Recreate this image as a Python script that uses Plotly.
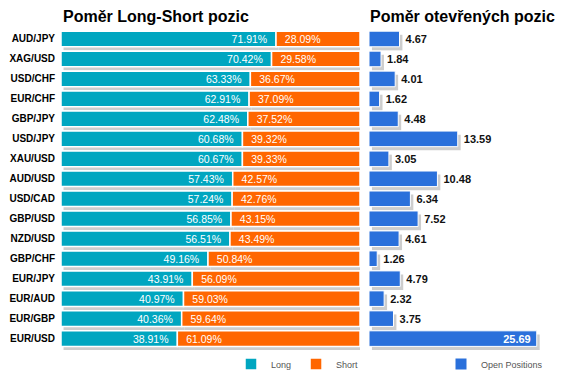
import plotly.graph_objects as go

pairs = ["AUD/JPY", "XAG/USD", "USD/CHF", "EUR/CHF", "GBP/JPY", "USD/JPY", "XAU/USD", "AUD/USD",
         "USD/CAD", "GBP/USD", "NZD/USD", "GBP/CHF", "EUR/JPY", "EUR/AUD", "EUR/GBP", "EUR/USD"]
long_pct = [71.91, 70.42, 63.33, 62.91, 62.48, 60.68, 60.67, 57.43, 57.24, 56.85, 56.51, 49.16,
            43.91, 40.97, 40.36, 38.91]
short_pct = [28.09, 29.58, 36.67, 37.09, 37.52, 39.32, 39.33, 42.57, 42.76, 43.15, 43.49, 50.84,
             56.09, 59.03, 59.64, 61.09]
open_pos = [4.67, 1.84, 4.01, 1.62, 4.48, 13.59, 3.05, 10.48, 6.34, 7.52, 4.61, 1.26, 4.79, 2.32,
            3.75, 25.69]

# the html body has an 8px margin -> figure sits at page (8, 8); convert page px to paper
W, H = 567, 380
OFF = 8


def px(x):
    return (x - OFF) / W


def py(y):
    return 1 - (y - OFF) / H


TEAL = "#00A6C0"
ORANGE = "#FF6600"
BLUE = "#2A70DB"
SHADOW = "#CDCDCD"
FONT = "Liberation Sans, Arial, sans-serif"

BW = 0.78          # bar thickness in category units
SH_Y = 0.18        # shadow vertical shift (category units)
SH_X1 = 0.85       # shadow horizontal shift, left chart (x units)
SH_X2 = 0.45       # shadow horizontal shift, right chart (x units)

fig = go.Figure()

# ---- shadows, left chart
fig.add_trace(go.Bar(y=pairs, x=long_pct, base=[SH_X1] * len(pairs), orientation="h",
                     marker=dict(color=SHADOW, line=dict(width=0)), width=BW,
                     offset=-BW / 2 + SH_Y, showlegend=False, hoverinfo="skip",
                     xaxis="x", yaxis="y"))
fig.add_trace(go.Bar(y=pairs, x=short_pct, base=[l + SH_X1 for l in long_pct], orientation="h",
                     marker=dict(color=SHADOW, line=dict(width=0)), width=BW,
                     offset=-BW / 2 + SH_Y, showlegend=False, hoverinfo="skip",
                     xaxis="x", yaxis="y"))

# ---- main bars, left chart
fig.add_trace(go.Bar(name="Long", y=pairs, x=long_pct, orientation="h",
                     marker=dict(color=TEAL, line=dict(color="white", width=1.5)),
                     width=BW, offset=-BW / 2,
                     texttemplate="%{x:.2f}%\u00a0\u00a0", textposition="inside",
                     insidetextanchor="end", constraintext="none",
                     textfont=dict(color="white", size=10.5, family=FONT),
                     legend="legend", xaxis="x", yaxis="y"))
fig.add_trace(go.Bar(name="Short", y=pairs, x=short_pct, base=long_pct, orientation="h",
                     marker=dict(color=ORANGE, line=dict(color="white", width=1.5)),
                     width=BW, offset=-BW / 2,
                     texttemplate="\u00a0\u00a0%{x:.2f}%", textposition="inside",
                     insidetextanchor="start", constraintext="none",
                     textfont=dict(color="white", size=10.5, family=FONT),
                     legend="legend", xaxis="x", yaxis="y"))

# ---- right chart
vmax = max(open_pos)
positions = ["inside" if v == vmax else "outside" for v in open_pos]
labels = ["%.2f\u00a0" % v if v == vmax else "\u00a0%.2f" % v for v in open_pos]
fig.add_trace(go.Bar(y=pairs, x=open_pos, base=[SH_X2] * len(pairs), orientation="h",
                     marker=dict(color=SHADOW, line=dict(width=0)), width=BW,
                     offset=-BW / 2 + SH_Y, showlegend=False, hoverinfo="skip",
                     xaxis="x2", yaxis="y2"))
fig.add_trace(go.Bar(name="Open Positions", y=pairs, x=open_pos, orientation="h",
                     marker=dict(color=BLUE, line=dict(color="white", width=1)),
                     width=BW, offset=-BW / 2,
                     text=labels, texttemplate="%{text}", textposition=positions,
                     insidetextanchor="end", constraintext="none", cliponaxis=False,
                     insidetextfont=dict(color="white", size=11, family=FONT, weight="bold"),
                     outsidetextfont=dict(color="#111111", size=11, family=FONT, weight="bold"),
                     legend="legend2", xaxis="x2", yaxis="y2"))

top_px, bot_px = 29, 350
ydom = [py(bot_px), py(top_px)]
R2_END = 560
R2_RANGE = (R2_END - 369) / 6.53

fig.update_layout(
    width=W, height=H,
    margin=dict(l=0, r=0, t=0, b=0),
    paper_bgcolor="white", plot_bgcolor="white",
    barmode="overlay",
    font=dict(family=FONT, size=11, color="#000"),
    xaxis=dict(domain=[px(61), px(360)], range=[0, 100], visible=False, fixedrange=True,
               automargin=False),
    yaxis=dict(domain=ydom, anchor="x", type="category", autorange="reversed",
               showgrid=False, zeroline=False, showline=False, ticks="", automargin=False,
               ticklabelstandoff=5,
               tickfont=dict(family=FONT, size=10, color="#000", weight="bold")),
    xaxis2=dict(domain=[px(369), px(R2_END)], range=[0, R2_RANGE], visible=False,
                fixedrange=True, anchor="y2", automargin=False),
    yaxis2=dict(domain=ydom, anchor="x2", type="category", autorange="reversed",
                showgrid=False, zeroline=False, showline=False, showticklabels=False, ticks="",
                automargin=False),
    legend=dict(orientation="h", x=px(364), xanchor="right", y=py(364), yanchor="middle",
                font=dict(size=9, color="#555", family=FONT), itemwidth=30,
                bgcolor="rgba(0,0,0,0)", traceorder="normal"),
    legend2=dict(orientation="h", x=px(548), xanchor="right", y=py(364), yanchor="middle",
                 font=dict(size=9, color="#555", family=FONT), itemwidth=30,
                 bgcolor="rgba(0,0,0,0)"),
    annotations=[
        dict(text="<b>Poměr Long-Short pozic</b>", x=px(61), y=py(17), xref="paper",
             yref="paper", xanchor="left", yanchor="middle", showarrow=False,
             font=dict(size=16, family=FONT, color="#000")),
        dict(text="<b>Poměr otevřených pozic</b>", x=px(368), y=py(17), xref="paper",
             yref="paper", xanchor="left", yanchor="middle", showarrow=False,
             font=dict(size=16, family=FONT, color="#000")),
    ],
)

fig.write_html("out.html")
